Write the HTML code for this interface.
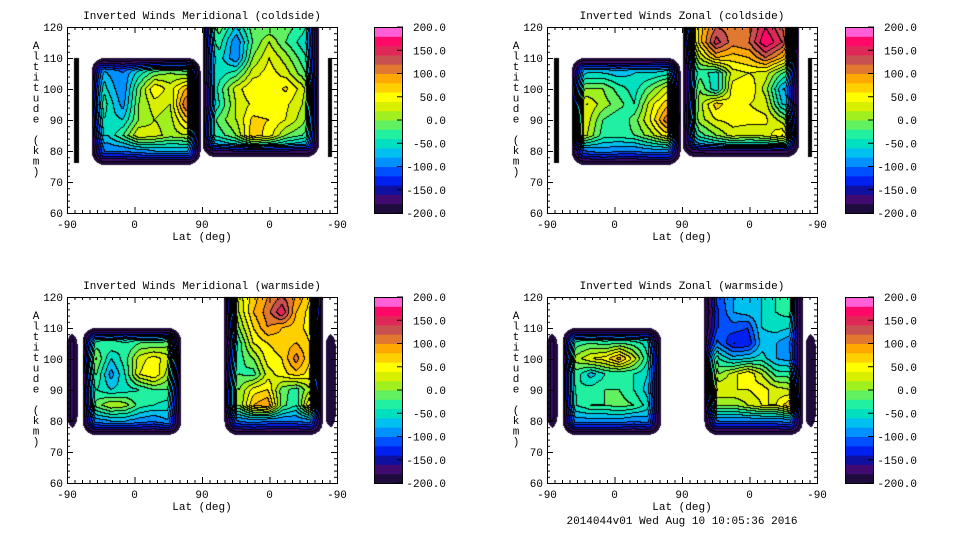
<!DOCTYPE html>
<html><head><meta charset="utf-8">
<style>
body{margin:0;background:#fff;width:960px;height:540px;overflow:hidden;position:relative;font-family:"Liberation Mono",monospace;}
canvas,svg{position:absolute;left:0;top:0;}
svg text{font-family:"Liberation Mono",monospace;font-size:11px;fill:#000;}
</style></head>
<body>
<canvas id="cv" width="960" height="540"></canvas>
<svg id="sv" width="960" height="540"></svg>
<script>
// ---- data ----
const colorLevels = [-200,-180,-160,-140,-120,-100,-80,-60,-40,-20,0,20,40,60,80,100,120,140,160,180,200];
const bandColors = ['#200c3c','#400a70','#1010a0','#0020f0','#0050ff','#0090ff','#00c0f0','#00e0c0','#20f0a0','#60f060','#a0f020','#d8f000','#ffff00','#ffd000','#ffa800','#e07830','#c85050','#e02858','#ff0868','#ff60d8'];
const cbTicks = [-200,-150,-100,-50,0,50,100,150,200];
const altTicks = [60,70,80,90,100,110,120];
const latTickLabels = ['-90','0','90','0','-90'];
const latTickPos = [0,90,180,270,360];
const panelTitles = ['Inverted Winds Meridional (coldside)','Inverted Winds Zonal (coldside)','Inverted Winds Meridional (warmside)','Inverted Winds Zonal (warmside)'];

const rowAltsLeft = [110,105,100,95,90,85,80];
const rowAltsRight = [120,115,110,105,100,95,90,85,80];
const colsColdLeft = [33,54,75,96,117,138,159,177];
const colsColdRight = [182,204,226,248,270,292,314,334];
const colsWarmLeft = [21,40,59,78,97,116,135,151];
const colsWarmRight = [211,230,249,268,287,306,325,340];

const tlLeftVals = [
[-110,-120,-130,-120,-110,-100,-100,-110],
[-40,-80,-100,-50,-10,0,-10,-30],
[20,-60,-100,-10,60,30,80,70],
[50,-40,-90,0,30,20,120,110],
[10,-50,-60,0,20,10,70,60],
[-40,-60,-20,40,30,10,20,10],
[-100,-100,-100,-90,-80,-80,-80,-70]];
const tlRightVals = [
[-40,-10,-60,-10,-20,-10,-30,-70],
[-60,-30,-100,-20,20,-20,-50,-70],
[-80,-50,-100,0,40,10,-30,-60],
[-70,-50,-30,30,50,30,-10,-50],
[-110,-30,30,60,40,65,30,-30],
[-110,-40,20,45,40,45,20,-30],
[-60,-10,20,65,60,40,10,-40],
[-40,-30,0,75,50,0,-20,-50],
[-110,-110,-100,-100,-100,-100,-110,-110]];
const trLeftVals = [
[-120,-120,-120,-120,-120,-120,-120,-120],
[-70,-60,-60,-70,-60,-60,-50,-40],
[-10,0,0,-30,-50,-10,30,10],
[30,40,10,-10,-40,30,70,90],
[60,30,-20,-40,-10,40,110,140],
[80,20,-30,-30,-20,10,50,70],
[-110,-100,-90,-100,-100,-90,-90,-80]];
const trRightVals = [
[-40,70,120,110,110,160,120,40],
[-60,70,150,110,120,180,140,40],
[-100,20,80,70,80,120,80,0],
[-120,-30,-50,30,40,30,-20,-50],
[-130,0,-60,50,60,10,-80,-90],
[-110,10,70,45,40,30,-60,-80],
[-90,10,40,50,50,45,10,-40],
[-110,-30,0,30,20,30,60,-10],
[-130,-120,-110,-110,-110,-110,-110,-120]];
const blLeftVals = [
[-120,-120,-120,-120,-120,-120,-120,-120],
[-60,-30,-20,-40,-20,-20,-10,-40],
[40,0,-60,-30,30,50,30,70],
[10,-20,-90,-40,40,60,10,30],
[-30,-40,-60,-50,-40,-20,-20,-30],
[-60,-10,20,10,-30,-40,-50,-50],
[-100,-90,-80,-80,-90,-100,-80,-100]];
const blRightVals = [
[-60,30,70,100,120,100,60,-60],
[-80,20,80,110,160,80,50,-40],
[-100,0,60,100,80,70,50,-10],
[-120,-30,40,60,70,80,60,-10],
[-80,-30,0,50,60,110,60,-10],
[-30,-20,-30,30,50,70,50,-10],
[10,0,50,60,-10,-30,20,-10],
[10,0,80,100,-10,-40,70,50],
[-110,-100,-90,-100,-100,-100,-90,-90]];
const brLeftVals = [
[-120,-120,-120,-120,-120,-120,-120,-120],
[-60,-30,-20,-30,-20,-30,-50,-80],
[-10,10,40,50,90,30,-40,-30],
[-40,-30,-70,-40,-40,-40,-60,-50],
[-30,-40,-30,-20,-20,-40,-70,-50],
[-60,-40,-20,-20,-10,-20,-50,-60],
[-100,-90,-90,-90,-90,-100,-90,-100]];
const brRightVals = [
[-140,-110,-80,-80,-60,-40,-20,-100],
[-150,-120,-80,-70,-60,-40,-30,-100],
[-130,-120,-110,-120,-60,-50,-60,-80],
[-60,-100,-140,-140,-70,-80,-100,-90],
[70,-40,-70,-60,-50,-80,-90,-90],
[90,0,30,60,20,-30,-30,-70],
[50,40,40,40,50,30,20,-50],
[0,0,0,20,40,40,80,-20],
[-110,-100,-100,-100,-100,-100,-90,-90]];
const stripCols = [0,1];
const stripAlts = [110,80];
const stripValsDark = [[-170,-170],[-170,-170]];
const stripValsMid = [[-120,-120],[-120,-120]];

// region extents: [s0,s1,alt0,alt1]
const panels = [
 {ox:67,oy:27,cbx:374,regions:[
  {ext:[33,178,75.5,110],cols:colsColdLeft,alts:rowAltsLeft,vals:tlLeftVals},
  {ext:[181,336,78,125],cols:colsColdRight,alts:rowAltsRight,vals:tlRightVals},
  {ext:[10,16,76,110],cols:stripCols,alts:stripAlts,vals:stripValsDark,black:1},
  {ext:[348,353,78,110],cols:stripCols,alts:stripAlts,vals:stripValsDark,black:1}]},
 {ox:547,oy:27,cbx:845,regions:[
  {ext:[33,178,75.5,110],cols:colsColdLeft,alts:rowAltsLeft,vals:trLeftVals},
  {ext:[181,336,78,125],cols:colsColdRight,alts:rowAltsRight,vals:trRightVals},
  {ext:[10,16,76,110],cols:stripCols,alts:stripAlts,vals:stripValsDark,black:1},
  {ext:[348,353,78,110],cols:stripCols,alts:stripAlts,vals:stripValsDark,black:1}]},
 {ox:67,oy:297,cbx:374,regions:[
  {ext:[21,152,75.5,110],cols:colsWarmLeft,alts:rowAltsLeft,vals:blLeftVals},
  {ext:[210,341,75.5,125],cols:colsWarmRight,alts:rowAltsRight,vals:blRightVals},
  {ext:[0,14,77,109],cols:stripCols,alts:stripAlts,vals:stripValsMid},
  {ext:[345,358,77,109],cols:stripCols,alts:stripAlts,vals:stripValsDark}]},
 {ox:547,oy:297,cbx:845,regions:[
  {ext:[21,152,75.5,110],cols:colsWarmLeft,alts:rowAltsLeft,vals:brLeftVals},
  {ext:[210,341,75.5,125],cols:colsWarmRight,alts:rowAltsRight,vals:brRightVals},
  {ext:[0,14,77,109],cols:stripCols,alts:stripAlts,vals:stripValsMid},
  {ext:[345,358,77,109],cols:stripCols,alts:stripAlts,vals:stripValsDark}]}
];

// ---- scales ----
const PW=270, PH=186;
const sx = s => s*PW/360;
const ay = a => PH-(a-60)*PH/60;

function interp(r,s,a){
  const c=r.cols, al=r.alts;
  let sc=Math.max(c[0],Math.min(c[c.length-1],s));
  let ac=Math.min(al[0],Math.max(al[al.length-1],a));
  let i=0; while(i<c.length-2 && sc>c[i+1]) i++;
  let j=0; while(j<al.length-2 && ac<al[j+1]) j++;
  const tx=(sc-c[i])/(c[i+1]-c[i]), ty=(al[j]-ac)/(al[j]-al[j+1]);
  const v=r.vals;
  return (v[j][i]*(1-tx)+v[j][i+1]*tx)*(1-ty)+(v[j+1][i]*(1-tx)+v[j+1][i+1]*tx)*ty;
}
function bandOf(v){ let b=Math.floor((v+200)/20); return Math.max(0,Math.min(19,b)); }

const cv=document.getElementById('cv'), ctx=cv.getContext('2d');
ctx.fillStyle='#fff';ctx.fillRect(0,0,960,540);
const img=ctx.getImageData(0,0,960,540);
function hex(h){return [parseInt(h.slice(1,3),16),parseInt(h.slice(3,5),16),parseInt(h.slice(5,7),16)];}
const rgb=bandColors.map(hex);

panels.forEach(p=>{
  const B=[];
  for(let py=0;py<PH;py++){B.push(new Int8Array(PW).fill(-1));
    for(let px=0;px<PW;px++){
      const s=(px+0.5)*360/PW, a=120-(py+0.5)*60/PH;
      for(const r of p.regions){
        const e=r.ext;
        if(s<e[0]||s>e[1]||a<e[2]||a>e[3]) continue;
        if(r.black){B[py][px]=-2;break;}
        const w=13;
        const dx=Math.min(sx(s-e[0]), sx(e[1]-s));
        const dy=Math.min(ay(e[2])-ay(a), e[3]>=120?99:ay(a)-ay(e[3]));
        let d;
        if(dx<w&&dy<w) d=w-Math.hypot(w-dx,w-dy); else d=Math.min(dx,dy);
        if(d<0) continue;
        let v=interp(r,s,a);
        if(d<w) v=-205+(v+205)*(d/w);
        B[py][px]=bandOf(v); break;
      }
    }
  }
  for(let py=0;py<PH;py++)for(let px=0;px<PW;px++){
    const b=B[py][px]; if(b===-1) continue;
    let c= b===-2?[0,0,0]:rgb[b];
    const br=px<PW-1?B[py][px+1]:b, bd=py<PH-1?B[py+1][px]:b;
    if((br!==b&&br>=0)||(bd!==b&&bd>=0)) c=[0,0,0];
    const k=((p.oy+py)*960+p.ox+px)*4;
    img.data[k]=c[0];img.data[k+1]=c[1];img.data[k+2]=c[2];
  }
});
ctx.putImageData(img,0,0);

// ---- axes (SVG) ----
const NS='http://www.w3.org/2000/svg', sv=document.getElementById('sv');
function el(tag,attrs,parent,txt){const e=document.createElementNS(NS,tag);for(const k in attrs)e.setAttribute(k,attrs[k]);if(txt!==undefined)e.textContent=txt;(parent||sv).appendChild(e);return e;}
const names=['meridional-coldside','zonal-coldside','meridional-warmside','zonal-warmside'];
panels.forEach((p,pi)=>{
  const g=el('g',{transform:`translate(${p.ox},${p.oy})`});
  
  
  const fr=el('rect',{x:0.5,y:0.5,width:PW,height:PH,fill:'none',stroke:'#000','stroke-width':1},g);
  
  
  const t=el('text',{x:PW/2,y:-8,'text-anchor':'middle'},g,panelTitles[pi]);
  
  
  for(let a=60;a<=120;a+=2){const y=ay(a)+0.5,L=(a%10===0)?6:3;
    el('line',{x1:0,x2:L,y1:y,y2:y,stroke:'#000'},g);el('line',{x1:PW-L,x2:PW,y1:y,y2:y,stroke:'#000'},g);}
  altTicks.forEach(a=>{const tx=el('text',{x:-4,y:ay(a)+4,'text-anchor':'end'},g,String(a));
    
    });
  for(let s=0;s<=360;s+=10){const x=sx(s)+0.5,L=(s%90===0)?6:3;
    el('line',{x1:x,x2:x,y1:PH-L,y2:PH,stroke:'#000'},g);el('line',{x1:x,x2:x,y1:0,y2:L,stroke:'#000'},g);}
  latTickPos.forEach((s,i)=>{const tx=el('text',{x:sx(s),y:PH+15,'text-anchor':'middle'},g,latTickLabels[i]);
    
    });
  const xl=el('text',{x:PW/2,y:PH+27,'text-anchor':'middle'},g,'Lat (deg)');
  
  
  const yt=el('text',{x:-31,y:22,'text-anchor':'middle'},g);
  
  
  'Altitude (km)'.split('').forEach((ch,i)=>{el('tspan',{x:-31,y:22+i*10.5},yt,ch);});
  // colorbar
  const cg=el('g',{transform:`translate(${p.cbx},${p.oy})`});
  
  
  const bh=PH/bandColors.length;
  bandColors.forEach((c,i)=>{const r=el('rect',{x:0,y:PH-(i+1)*bh,width:29,height:bh+0.5,fill:c},cg);
    
    });
  el('rect',{x:0.5,y:0.5,width:28,height:PH,fill:'none',stroke:'#000'},cg);
  cbTicks.forEach(v=>{const y=PH-(v+200)/400*PH;
    el('line',{x1:23,x2:29,y1:y,y2:y,stroke:'#000'},cg);
    const tx=el('text',{x:72,y:y+4,'text-anchor':'end'},cg,v.toFixed(1));
    
    });
});
const ft=el('text',{x:682,y:524,'text-anchor':'middle'},sv,'2014044v01 Wed Aug 10 10:05:36 2016');


</script>
</body></html>
